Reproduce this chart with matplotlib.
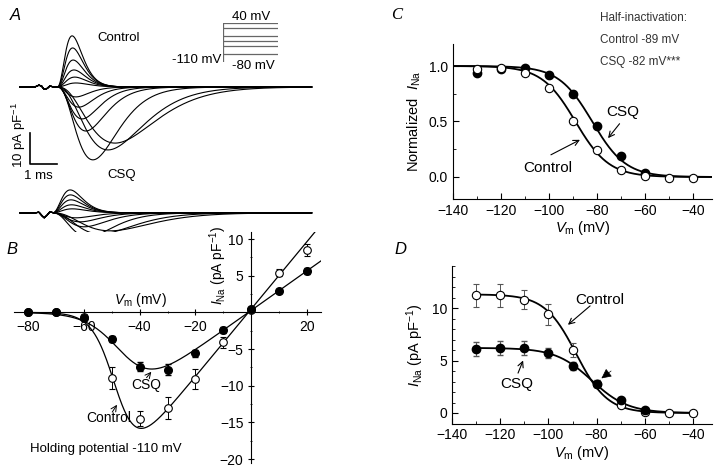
import numpy as np
import matplotlib
matplotlib.use("Agg")
import matplotlib.pyplot as plt
from matplotlib.ticker import MultipleLocator

plt.rcParams['font.family'] = ['Liberation Sans', 'DejaVu Sans']
plt.rcParams['mathtext.fontset'] = 'custom'
plt.rcParams['mathtext.rm'] = 'Liberation Sans'
plt.rcParams['mathtext.it'] = 'Liberation Sans:italic'

W, H = 720, 471

# ---- panel A: current traces (pA/pF, ms) ----
ctrl_onset = 1.37
ctrl_up_amp = [16.5, 12.6, 8.7, 5.5, 3.2, 1.3]
ctrl_up_tp = [0.56, 0.58, 0.60, 0.63, 0.66, 0.70]
ctrl_down_amp = [23.5, 20.3, 18.1, 14.2, 10.3, 6.5, 3.2]
ctrl_down_tp = [1.33, 1.89, 2.15, 1.07, 0.93, 0.81, 0.70]
csq_onset = 1.19
csq_up_amp = [7.4, 5.8, 4.2, 2.6, 1.3]
csq_up_tp = [0.67, 0.68, 0.70, 0.72, 0.75]
csq_down_amp = [7.7, 6.8, 5.8, 4.5, 2.9, 1.6]
csq_down_tp = [1.33, 1.78, 2.15, 1.19, 1.04, 0.89]
csq_offset = -40.6
art_t = [0.55, 0.70, 0.80, 0.90, 1.00, 1.10, 1.25]
art_ctrl = [0.0, 0.6, 0.3, -0.8, -0.5, 0.3, 0.0]
art_csq = [0.0, 0.2, -0.8, -1.6, -0.8, 0.3, 0.0]
step_levels = [40, 20, -10, -30, -50, -80]
holding = -110

# ---- panel B: I-V ----
iv_v = [-80, -70, -60, -50, -40, -30, -20, -10, 0, 10, 20]
iv_ctrl = [0.0, 0.0, -0.6, -9.0, -14.5, -13.1, -9.1, -4.1, 0.3, 5.4, 8.5]
iv_ctrl_err = [0, 0, 0.4, 1.5, 1.0, 1.5, 1.4, 0.8, 0.3, 0.5, 0.8]
iv_csq = [0.0, 0.0, -0.8, -3.6, -7.4, -7.8, -5.6, -2.4, 0.5, 2.9, 5.6]
iv_csq_err = [0, 0, 0.2, 0.4, 0.6, 0.7, 0.5, 0.4, 0.2, 0.3, 0.4]
iv_fit_ctrl = dict(g=0.46, erev=-1.0, vh=-48.0, k=4.0)
iv_fit_csq = dict(g=0.27, erev=-1.0, vh=-45.0, k=6.0)

# ---- panel C: steady-state inactivation ----
ss_v = [-130, -120, -110, -100, -90, -80, -70, -60, -50, -40]
ss_ctrl = [0.97, 0.98, 0.94, 0.80, 0.50, 0.24, 0.06, 0.01, -0.01, -0.01]
ss_csq_v = [-130, -120, -110, -100, -90, -80, -70, -60]
ss_csq = [0.94, 0.97, 0.98, 0.92, 0.75, 0.46, 0.19, 0.04]
vhalf_ctrl, vhalf_csq, slope_k = -89.0, -82.0, 7.0

# ---- panel D: absolute inactivation ----
ab_v = [-130, -120, -110, -100, -90, -80, -70, -60, -50, -40]
ab_ctrl = [11.2, 11.2, 10.8, 9.4, 6.0, 2.8, 0.8, 0.1, 0.0, 0.0]
ab_ctrl_err = [1.1, 1.1, 0.9, 1.0, 0.7, 0.3, 0.3, 0.2, 0.1, 0.1]
ab_csq_v = [-130, -120, -110, -100, -90, -80, -70, -60]
ab_csq = [6.1, 6.2, 6.2, 5.7, 4.5, 2.8, 1.2, 0.3]
ab_csq_err = [0.7, 0.7, 0.7, 0.5, 0.4, 0.3, 0.2, 0.1]
ab_fit_ctrl = dict(a=11.3, vh=-88.5, k=6.5)
ab_fit_csq = dict(a=6.2, vh=-82.0, k=7.5)


def px_axes(fig, x0, y0, x1, y1):
    return fig.add_axes([x0 / W, 1 - y1 / H, (x1 - x0) / W, (y1 - y0) / H])


def ftext(fig, x, y, s, **kw):
    fig.text(x / W, 1 - y / H, s, **kw)


def gshape(t, t0, tp, amp, n=3):
    s = np.clip((t - t0) / tp, 0, None)
    return amp * s ** n * np.exp(n * (1 - s))


fig = plt.figure(figsize=(W / 100, H / 100), dpi=100)

# A
axA = px_axes(fig, 0, 0, 330, 240)
axA.set_xlim(-20 / 27, 310 / 27)
axA.set_ylim((87 - 240) / 3.1, 87 / 3.1)
axA.axis('off')
t = np.linspace(0, 10.8, 700)
ac = np.interp(t, art_t, art_ctrl)
aq = np.interp(t, art_t, art_csq)
for a, tp in zip(ctrl_up_amp, ctrl_up_tp):
    axA.plot(t, ac + gshape(t, ctrl_onset, tp, a), 'k', lw=0.8)
for a, tp in zip(ctrl_down_amp, ctrl_down_tp):
    axA.plot(t, ac - gshape(t, ctrl_onset, tp, a), 'k', lw=0.8)
for a, tp in zip(csq_up_amp, csq_up_tp):
    axA.plot(t, csq_offset + aq + gshape(t, csq_onset, tp, a), 'k', lw=0.8)
for a, tp in zip(csq_down_amp, csq_down_tp):
    axA.plot(t, csq_offset + aq - gshape(t, csq_onset, tp, a), 'k', lw=0.8)
# scale bar
axA.plot([0.37, 0.37, 1.37], [-14.8, -24.8, -24.8], 'k', lw=1.2)
ftext(fig, 19, 135, r'10 pA pF$^{-1}$', rotation=90, ha='center', va='center', fontsize=9.5)
ftext(fig, 38, 176, '1 ms', ha='center', va='center', fontsize=9.5)
ftext(fig, 119, 38, 'Control', ha='center', va='center', fontsize=9.5)
ftext(fig, 122, 175, 'CSQ', ha='center', va='center', fontsize=9.5)
ftext(fig, 15, 15, 'A', ha='center', va='center', fontsize=12, style='italic')

# protocol inset
axP = px_axes(fig, 223, 23, 278, 62)
axP.set_xlim(0, 1)
axP.set_ylim(holding, 40)
axP.axis('off')
axP.plot([0, 0], [holding, max(step_levels)], color='#666666', lw=0.9)
for lv in step_levels:
    axP.plot([0, 1], [lv, lv], color='#666666', lw=0.9)
ftext(fig, 251, 17, '40 mV', ha='center', va='center', fontsize=9.5)
ftext(fig, 221, 60, '-110 mV', ha='right', va='center', fontsize=9.5)
ftext(fig, 253, 66, '-80 mV', ha='center', va='center', fontsize=9.5)

# B
axB = px_axes(fig, 14, 231.7, 321, 462.7)
axB.set_xlim(-85, 25)
axB.set_ylim(-20.5, 11)
for s in ['top', 'right']:
    axB.spines[s].set_visible(False)
axB.spines['left'].set_position(('data', 0))
axB.spines['bottom'].set_position(('data', 0))
axB.set_xticks([-80, -60, -40, -20, 20])
axB.set_yticks([-20, -15, -10, -5, 5, 10])
axB.xaxis.set_minor_locator(MultipleLocator(10))
axB.yaxis.set_minor_locator(MultipleLocator(2.5))
axB.tick_params(labelsize=10, direction='inout', length=4)
axB.tick_params(which='minor', direction='inout', length=2)
vv = np.linspace(-80, 25, 400)
for p in (iv_fit_ctrl, iv_fit_csq):
    axB.plot(vv, p['g'] * (vv - p['erev']) / (1 + np.exp((p['vh'] - vv) / p['k'])), 'k', lw=0.9)
axB.errorbar(iv_v, iv_ctrl, yerr=iv_ctrl_err, fmt='o', mfc='white', mec='k', ecolor='k',
             ms=5.5, capsize=2, elinewidth=0.7, mew=0.8, zorder=3)
axB.errorbar(iv_v, iv_csq, yerr=iv_csq_err, fmt='o', mfc='k', mec='k', ecolor='k',
             ms=5.5, capsize=2, elinewidth=0.7, zorder=4)
axB.text(-12, 6.4, r'$I_{\rm Na}$ (pA pF$^{-1}$)', rotation=90, ha='center', va='center', fontsize=10)
axB.text(-39.8, 1.7, r'$V_{\rm m}$ (mV)', ha='center', va='center', fontsize=10)
axB.text(-37.7, -9.9, 'CSQ', ha='center', va='center', fontsize=10)
axB.annotate('', xy=(-35.8, -8.1), xytext=(-37.5, -8.9),
             arrowprops=dict(arrowstyle='->', lw=0.7, shrinkA=0, shrinkB=0))
axB.text(-50.9, -14.4, 'Control', ha='center', va='center', fontsize=10)
axB.annotate('', xy=(-48.1, -12.6), xytext=(-49.8, -13.6),
             arrowprops=dict(arrowstyle='->', lw=0.7, shrinkA=0, shrinkB=0))
axB.text(-52, -18.6, 'Holding potential -110 mV', ha='center', va='center', fontsize=9.5)
ftext(fig, 12, 250, 'B', ha='center', va='center', fontsize=12, style='italic')

# C
axC = px_axes(fig, 453, 43.8, 712.2, 199.2)
axC.set_xlim(-140, -32)
axC.set_ylim(-0.2, 1.2)
for s in ['top', 'right']:
    axC.spines[s].set_visible(False)
axC.set_xticks([-140, -120, -100, -80, -60, -40])
axC.set_yticks([0.0, 0.5, 1.0])
axC.xaxis.set_minor_locator(MultipleLocator(10))
axC.yaxis.set_minor_locator(MultipleLocator(0.25))
axC.tick_params(labelsize=10, direction='in', length=4)
axC.tick_params(which='minor', direction='in', length=2)
vc = np.linspace(-140, -32, 400)
axC.plot(vc, 1 / (1 + np.exp((vc - vhalf_ctrl) / slope_k)), 'k', lw=1.3)
axC.plot(vc, 1 / (1 + np.exp((vc - vhalf_csq) / slope_k)), 'k', lw=1.3)
axC.plot(ss_csq_v, ss_csq, 'o', mfc='k', mec='k', ms=6)
axC.plot(ss_v, ss_ctrl, 'o', mfc='white', mec='k', ms=6, mew=0.8)
axC.set_ylabel(r'Normalized  $I_{\rm Na}$', fontsize=10.5, labelpad=4)
axC.set_xlabel(r'$V_{\rm m}$ (mV)', fontsize=10.5, labelpad=1)
axC.text(-69.2, 0.586, 'CSQ', ha='center', va='center', fontsize=11)
axC.annotate('', xy=(-75.4, 0.35), xytext=(-70.6, 0.48),
             arrowprops=dict(arrowstyle='->', lw=0.8, shrinkA=0, shrinkB=0))
axC.text(-100.4, 0.08, 'Control', ha='center', va='center', fontsize=11)
axC.annotate('', xy=(-87.1, 0.335), xytext=(-99.2, 0.2),
             arrowprops=dict(arrowstyle='->', lw=0.8, shrinkA=0, shrinkB=0))
ftext(fig, 600, 18, 'Half-inactivation:', ha='left', va='center', fontsize=8.5, color='#333333')
ftext(fig, 600, 40, 'Control -89 mV', ha='left', va='center', fontsize=8.5, color='#333333')
ftext(fig, 600, 62, 'CSQ -82 mV***', ha='left', va='center', fontsize=8.5, color='#333333')
ftext(fig, 397, 15, 'C', ha='center', va='center', fontsize=12, style='italic', family='Liberation Serif')

# D
axD = px_axes(fig, 452, 266, 712.3, 423.5)
axD.set_xlim(-140, -32)
axD.set_ylim(-1, 14)
for s in ['top', 'right']:
    axD.spines[s].set_visible(False)
axD.set_xticks([-140, -120, -100, -80, -60, -40])
axD.set_yticks([0, 5, 10])
axD.xaxis.set_minor_locator(MultipleLocator(10))
axD.yaxis.set_minor_locator(MultipleLocator(1))
axD.tick_params(labelsize=10, direction='in', length=4)
axD.tick_params(which='minor', direction='in', length=2)
vd = np.linspace(-130, -40, 400)
for p in (ab_fit_ctrl, ab_fit_csq):
    axD.plot(vd, p['a'] / (1 + np.exp((vd - p['vh']) / p['k'])), 'k', lw=1.3)
axD.errorbar(ab_v, ab_ctrl, yerr=ab_ctrl_err, fmt='o', mfc='white', mec='k', ecolor='#555555',
             ms=6, capsize=2.5, elinewidth=0.7, mew=0.8, zorder=3)
axD.errorbar(ab_csq_v, ab_csq, yerr=ab_csq_err, fmt='o', mfc='k', mec='k', ecolor='#555555',
             ms=6, capsize=2.5, elinewidth=0.7, zorder=4)
axD.set_ylabel(r'$I_{\rm Na}$ (pA pF$^{-1}$)', fontsize=10.5, labelpad=4)
axD.set_xlabel(r'$V_{\rm m}$ (mV)', fontsize=10.5, labelpad=1)
axD.text(-78.6, 10.76, 'Control', ha='center', va='center', fontsize=11)
axD.annotate('', xy=(-91.9, 8.4), xytext=(-82.7, 10.2),
             arrowprops=dict(arrowstyle='->', lw=0.8, shrinkA=0, shrinkB=0))
axD.text(-113, 2.76, 'CSQ', ha='center', va='center', fontsize=11)
axD.annotate('', xy=(-110.5, 5.0), xytext=(-112.6, 3.8),
             arrowprops=dict(arrowstyle='->', lw=0.8, shrinkA=0, shrinkB=0))
axD.annotate('', xy=(-78.0, 3.3), xytext=(-74.0, 4.0),
             arrowprops=dict(arrowstyle='-|>,head_length=0.6,head_width=0.3', lw=0.5,
                             color='k', shrinkA=0, shrinkB=0))
ftext(fig, 400, 250, 'D', ha='center', va='center', fontsize=12, style='italic')

fig.savefig('out.png', dpi=100)
